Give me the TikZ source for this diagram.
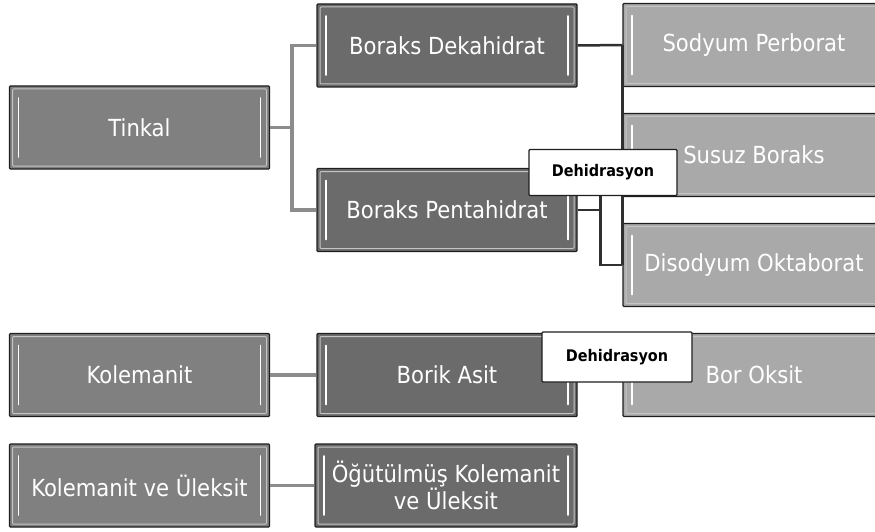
\documentclass[tikz,border=0pt]{standalone}
\usepackage{fontspec}
\newfontfamily\boxfont{DejaVu Sans Condensed}
\newfontfamily\tagfont{DejaVu Sans Condensed Bold}
\definecolor{gray1}{HTML}{808080}
\definecolor{gray2}{HTML}{6B6B6B}
\definecolor{gray3}{HTML}{A9A9A9}
\definecolor{rim}{HTML}{C4C4C4}
\definecolor{edge}{HTML}{1E1E1E}
\definecolor{linkgray}{HTML}{8C8C8C}
\definecolor{linkdark}{HTML}{303030}
\tikzset{
  box/.style={draw=edge, line width=1.4pt, rounded corners=1pt,
    minimum width=260pt, minimum height=83pt, inner sep=2pt,
    text=white, align=center, font=\boxfont\fontsize{23.5}{24}\selectfont,
    path picture={
      \draw[rim, line width=1pt] ([shift={(3pt,-3pt)}]path picture bounding box.north west)
        rectangle ([shift={(-3pt,3pt)}]path picture bounding box.south east);
      \draw[white, line width=1.6pt, line cap=round] ([shift={(9pt,-12pt)}]path picture bounding box.north west)
        -- ([shift={(9pt,12pt)}]path picture bounding box.south west);
      \draw[white, line width=1.6pt, line cap=round] ([shift={(-9pt,-12pt)}]path picture bounding box.north east)
        -- ([shift={(-9pt,12pt)}]path picture bounding box.south east);
    }},
  tag/.style={draw=edge, fill=white, line width=1.2pt, rounded corners=1pt,
    minimum width=148pt, minimum height=46pt, text=black,
    font=\tagfont\fontsize{16}{18}\selectfont},
  link/.style={draw=linkgray, line width=3.5pt},
  darklink/.style={draw=linkdark, line width=2.5pt}
}

\begin{document}
\begin{tikzpicture}[x=1pt, y=-1pt]
\useasboundingbox (0,0) rectangle (875,532);

% first column
\node[box, fill=gray1] (tinkal) at (139.5,127.5) {Tinkal};
\node[box, fill=gray1] (kolemanit) at (139.5,375) {Kolemanit};
\node[box, fill=gray1] (kolul) at (139.5,485.5) {Kolemanit ve Üleksit};

% second column
\node[box, fill=gray2] (dekahidrat) at (447,45.5) {Boraks Dekahidrat};
\node[box, fill=gray2] (pentahidrat) at (447,210) {Boraks Pentahidrat};
\node[box, fill=gray2] (borik) at (447,375) {Borik Asit};
\node[box, fill=gray2, minimum width=262pt] (ogutulmus) at (446,485.5) {Öğütülmüş Kolemanit\\ve Üleksit};

% third column
\node[box, fill=gray3, minimum width=262pt] (perborat) at (754,45) {Sodyum Perborat};
\node[box, fill=gray3, minimum width=262pt] (susuz) at (754,155) {Susuz Boraks};
\node[box, fill=gray3, minimum width=262pt] (disodyum) at (754,265) {Disodyum Oktaborat};
\node[box, fill=gray3, minimum width=262pt] (boroksit) at (754,375) {Bor Oksit};

% connectors
\draw[link] (tinkal.east) -- ++(22,0) |- (dekahidrat.west);
\draw[link] (tinkal.east) -- ++(22,0) |- (pentahidrat.west);
\draw[link] (kolemanit) -- (borik);
\draw[link] (kolul) -- (ogutulmus);
\draw[darklink] (dekahidrat.east) -- (perborat.west);
\draw[darklink] (perborat.west) -- (disodyum.west);
\draw[darklink] (pentahidrat.east) -- ++(23,0) |- (disodyum.west);
\draw[darklink] (pentahidrat.east) -- ++(23,0) |- (susuz.west);
\draw[darklink] (borik) -- (boroksit);

% labels
\node[tag] (dehid1) at (603,172.5) {Dehidrasyon};
\node[tag, minimum width=150pt, minimum height=50pt] (dehid2) at (617,357) {Dehidrasyon};
\end{tikzpicture}
\end{document}
